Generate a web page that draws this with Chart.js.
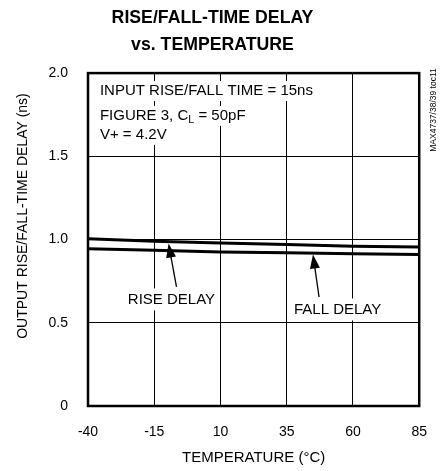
<!DOCTYPE html>
<html>
<head>
<meta charset="utf-8">
<script src="https://cdn.jsdelivr.net/npm/chart.js@4/dist/chart.umd.min.js"></script>
<style>
  html, body { margin: 0; padding: 0; background: #fff; }
  #wrap { width: 445px; height: 471px; }
</style>
</head>
<body>
<div id="wrap"><canvas id="myChart" width="445" height="471"></canvas></div>
<script>
const FONT = "'Liberation Sans', Arial, sans-serif";

const temps = [-40, -15, 10, 35, 60, 85];
const riseDelay = [1.005, 0.99, 0.98, 0.97, 0.96, 0.955];
const fallDelay = [0.945, 0.935, 0.925, 0.92, 0.915, 0.91];
const xTicks = [-40, -15, 10, 35, 60, 85];
const yTicks = [0, 0.5, 1.0, 1.5, 2.0];

const noteLines = ['INPUT RISE/FALL TIME = 15ns', 'FIGURE 3, C|L| = 50pF', 'V+ = 4.2V'];

// text labels with arrows: [label, textX, textY, tailX, tailY, tipX, tipY]
const arrowLabels = [
  ['RISE DELAY', -8.5, 0.64, -6.6, 0.715, -9.6, 0.976],
  ['FALL DELAY', 54.2, 0.58, 47.2, 0.655, 44.9, 0.91]
];

function pts(vals) {
  return temps.map((t, i) => ({ x: t, y: vals[i] }));
}

// draws text, with "|x|" meaning subscript
function drawRich(ctx, str, x, y, size) {
  const parts = str.split('|');
  let cx = x;
  parts.forEach((p, i) => {
    if (!p) return;
    if (i % 2 === 1) {
      ctx.font = (size * 0.72) + 'px ' + FONT;
      ctx.fillText(p, cx, y + size * 0.25);
    } else {
      ctx.font = size + 'px ' + FONT;
      ctx.fillText(p, cx, y);
    }
    cx += ctx.measureText(p).width;
  });
  return cx - x;
}

const extras = {
  id: 'extras',
  afterDatasetsDraw(chart) {
    const ctx = chart.ctx;
    const xs = chart.scales.x, ys = chart.scales.y;
    const a = chart.chartArea;
    ctx.save();
    ctx.textBaseline = 'middle';
    ctx.textAlign = 'left';

    // condition notes
    const nx = xs.getPixelForValue(-35.5);
    const ny = [1.892, 1.743, 1.629];
    noteLines.forEach((line, i) => {
      const y = ys.getPixelForValue(ny[i]);
      ctx.font = '15px ' + FONT;
      const w = ctx.measureText(line.replace(/\|/g, '')).width;
      ctx.fillStyle = '#fff';
      ctx.fillRect(nx - 3, y - 10, w + 8, 20);
      ctx.fillStyle = '#000';
      drawRich(ctx, line, nx, y, 15);
    });

    // arrow labels
    arrowLabels.forEach(([txt, tx, ty, x0, y0, x1, y1]) => {
      const px = xs.getPixelForValue(tx), py = ys.getPixelForValue(ty);
      ctx.font = '15px ' + FONT;
      const w = ctx.measureText(txt).width;
      ctx.fillStyle = '#fff';
      ctx.fillRect(px - w / 2 - 4, py - 11, w + 8, 22);
      ctx.fillStyle = '#000';
      ctx.textAlign = 'center';
      ctx.fillText(txt, px, py);
      ctx.textAlign = 'left';

      const ax = xs.getPixelForValue(x0), ay = ys.getPixelForValue(y0);
      const bx = xs.getPixelForValue(x1), by = ys.getPixelForValue(y1);
      const ang = Math.atan2(by - ay, bx - ax);
      const hl = 14, hw = 5;
      ctx.strokeStyle = '#000';
      ctx.lineWidth = 1.3;
      ctx.beginPath();
      ctx.moveTo(ax, ay);
      ctx.lineTo(bx - Math.cos(ang) * hl * 0.8, by - Math.sin(ang) * hl * 0.8);
      ctx.stroke();
      ctx.beginPath();
      ctx.moveTo(bx, by);
      ctx.lineTo(bx - Math.cos(ang) * hl - Math.sin(ang) * hw, by - Math.sin(ang) * hl + Math.cos(ang) * hw);
      ctx.lineTo(bx - Math.cos(ang) * hl + Math.sin(ang) * hw, by - Math.sin(ang) * hl - Math.cos(ang) * hw);
      ctx.closePath();
      ctx.fill();
    });

    // frame
    ctx.lineWidth = 2.5;
    ctx.strokeStyle = '#000';
    ctx.strokeRect(a.left, a.top, a.right - a.left, a.bottom - a.top);

    // y axis title
    ctx.save();
    ctx.translate(23, 216);
    ctx.rotate(-Math.PI / 2);
    ctx.textAlign = 'center';
    ctx.font = '14px ' + FONT;
    ctx.fillStyle = '#000';
    ctx.fillText('OUTPUT RISE/FALL-TIME DELAY (ns)', 0, 0);
    ctx.restore();

    // part number tag
    ctx.save();
    ctx.translate(434, 110);
    ctx.rotate(-Math.PI / 2);
    ctx.textAlign = 'center';
    ctx.font = '8.5px ' + FONT;
    ctx.fillStyle = '#000';
    ctx.fillText('MAX4737/38/39 toc11', 0, 0);
    ctx.restore();

    ctx.restore();
  }
};

const ctx = document.getElementById('myChart').getContext('2d');

new Chart(ctx, {
  type: 'line',
  data: {
    datasets: [
      { label: 'RISE DELAY', data: pts(riseDelay), borderColor: '#000', borderWidth: 3, pointRadius: 0, tension: 0 },
      { label: 'FALL DELAY', data: pts(fallDelay), borderColor: '#000', borderWidth: 3, pointRadius: 0, tension: 0 }
    ]
  },
  options: {
    responsive: false,
    animation: false,
    layout: { padding: { top: 0, right: 20, left: 0, bottom: 0 } },
    plugins: {
      legend: { display: false },
      tooltip: { enabled: false },
      title: {
        display: true,
        text: ['RISE/FALL-TIME DELAY', 'vs. TEMPERATURE'],
        color: '#000',
        font: { family: FONT, size: 17.7, weight: 'bold', lineHeight: 1.5 },
        padding: { top: 5, bottom: 15 }
      }
    },
    scales: {
      x: {
        type: 'linear',
        min: -40,
        max: 85,
        afterBuildTicks: s => { s.ticks = xTicks.map(v => ({ value: v })); },
        afterFit: s => { s.height = 65; },
        grid: { color: '#000', lineWidth: 1, drawTicks: false },
        border: { display: false },
        ticks: { color: '#000', padding: 18, font: { family: FONT, size: 14 } },
        title: {
          display: true,
          text: 'TEMPERATURE (°C)',
          color: '#000',
          font: { family: FONT, size: 15 },
          padding: { top: 6 }
        }
      },
      y: {
        min: 0,
        max: 2,
        afterBuildTicks: s => { s.ticks = yTicks.map(v => ({ value: v })); },
        afterFit: s => { s.width = 88; },
        grid: { color: '#000', lineWidth: 1, drawTicks: false },
        border: { display: false },
        ticks: {
          color: '#000',
          padding: 20,
          font: { family: FONT, size: 14 },
          callback: v => v === 0 ? '0' : v.toFixed(1)
        }
      }
    }
  },
  plugins: [extras]
});
</script>
</body>
</html>
